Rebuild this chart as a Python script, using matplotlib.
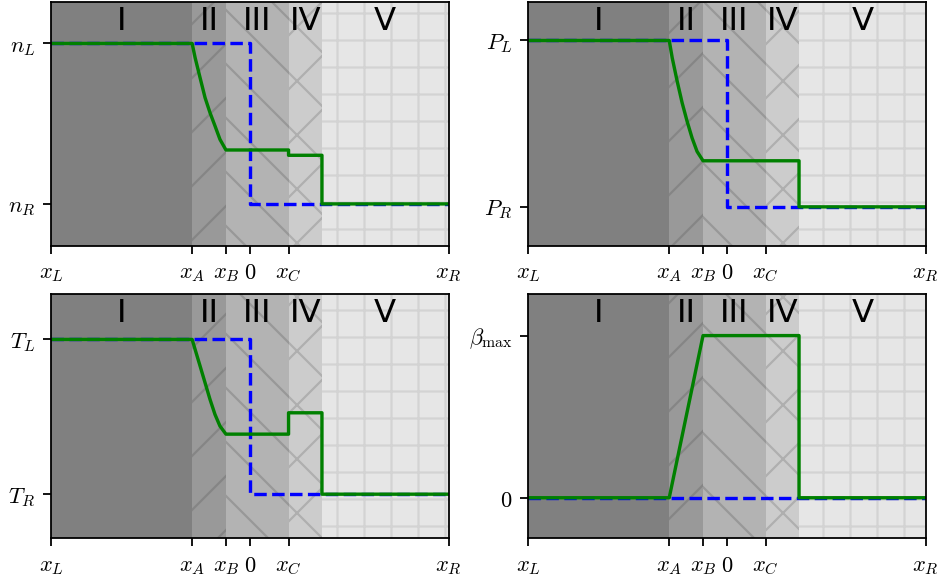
import numpy as np
import matplotlib
matplotlib.use("Agg")
import matplotlib.pyplot as plt

plt.rcParams['mathtext.fontset'] = 'cm'

# wave positions (x_L .. x_R mapped to -1 .. 1)
xL, xA, xB, x0, xC, xS, xR = -1.0, -0.29, -0.12, 0.0, 0.195, 0.363, 1.0

# regions I..V
region_names = ['I', 'II', 'III', 'IV', 'V']
region_edges = [xL, xA, xB, xC, xS, xR]
region_faces = ['0.5', '0.6', '0.7', '0.8', '0.9']
region_hatch = ['', '/', '\\', 'x', '+']
hatch_alpha = [0.0, 0.13, 0.15, 0.14, 0.08]

# rarefaction fan, values scaled so that right state = 0, left state = 1
rare_x = [-0.290, -0.275, -0.250, -0.225, -0.200, -0.175, -0.150, -0.120]
n_rare = [1.0, 0.911, 0.786, 0.662, 0.568, 0.486, 0.402, 0.336]
P_rare = [1.0, 0.896, 0.755, 0.625, 0.514, 0.414, 0.333, 0.277]
T_rare = [1.0, 0.935, 0.828, 0.720, 0.612, 0.515, 0.440, 0.388]
b_rare = [0.0, 0.088, 0.235, 0.382, 0.529, 0.676, 0.824, 1.0]

# plateaus behind contact (III) and shock (IV)
n_III, n_IV = 0.336, 0.303
P_III, P_IV = 0.277, 0.277
T_III, T_IV = 0.388, 0.526
b_III, b_IV = 1.0, 1.0

# initial state (left, right)
n_init = [1.0, 0.0]
P_init = [1.0, 0.0]
T_init = [1.0, 0.0]
b_init = [0.0, 0.0]

ylabels = [['$n_R$', '$n_L$'], ['$P_R$', '$P_L$'],
           ['$T_R$', '$T_L$'], ['$0$', r'$\beta_{\max}$']]
yticks = [[0, 1], [0, 1], [0, 1], [0, 1]]
ylims = [(-0.26, 1.26), (-0.233, 1.233), (-0.285, 1.291), (-0.25, 1.254)]

xticks = [xL, xA, xB, x0, xC, xR]
xticklabels = ['$x_L$', '$x_A$', '$x_B$', '$0$', '$x_C$', '$x_R$']

panels = [
    (n_rare, n_III, n_IV, n_init),
    (P_rare, P_III, P_IV, P_init),
    (T_rare, T_III, T_IV, T_init),
    (b_rare, b_III, b_IV, b_init),
]

fig, axes = plt.subplots(2, 2, figsize=(941/162, 578/162), dpi=162)
fig.subplots_adjust(left=0.0542, right=0.9837, top=0.997, bottom=0.0687,
                    wspace=0.2, hspace=0.2)

for k, ax in enumerate(axes.flat):
    rare, v3, v4, init = panels[k]
    left = rare[0]
    for i in range(5):
        ax.axvspan(region_edges[i], region_edges[i+1], facecolor=region_faces[i],
                   edgecolor=(0, 0, 0, hatch_alpha[i]), lw=0,
                   hatch=region_hatch[i], zorder=0)
        ax.text(0.5*(region_edges[i] + region_edges[i+1]), 0.92, region_names[i],
                transform=ax.get_xaxis_transform(), ha='center', va='center',
                fontsize='x-large')
    # initial condition
    ax.plot([xL, x0, x0, xR], [init[0], init[0], init[1], init[1]], 'b--', lw=1.5)
    # solution
    gx = [xL] + rare_x + [xC, xC, xS, xS, xR]
    gy = [left] + rare + [v3, v4, v4, init[1], init[1]]
    ax.plot(gx, gy, color='green', lw=1.5)
    ax.set_xlim(xL, xR)
    ax.set_ylim(*ylims[k])
    ax.set_xticks(xticks)
    ax.set_xticklabels(xticklabels)
    ax.set_yticks(yticks[k])
    ax.set_yticklabels(ylabels[k])

fig.savefig('out.png', dpi=162)
